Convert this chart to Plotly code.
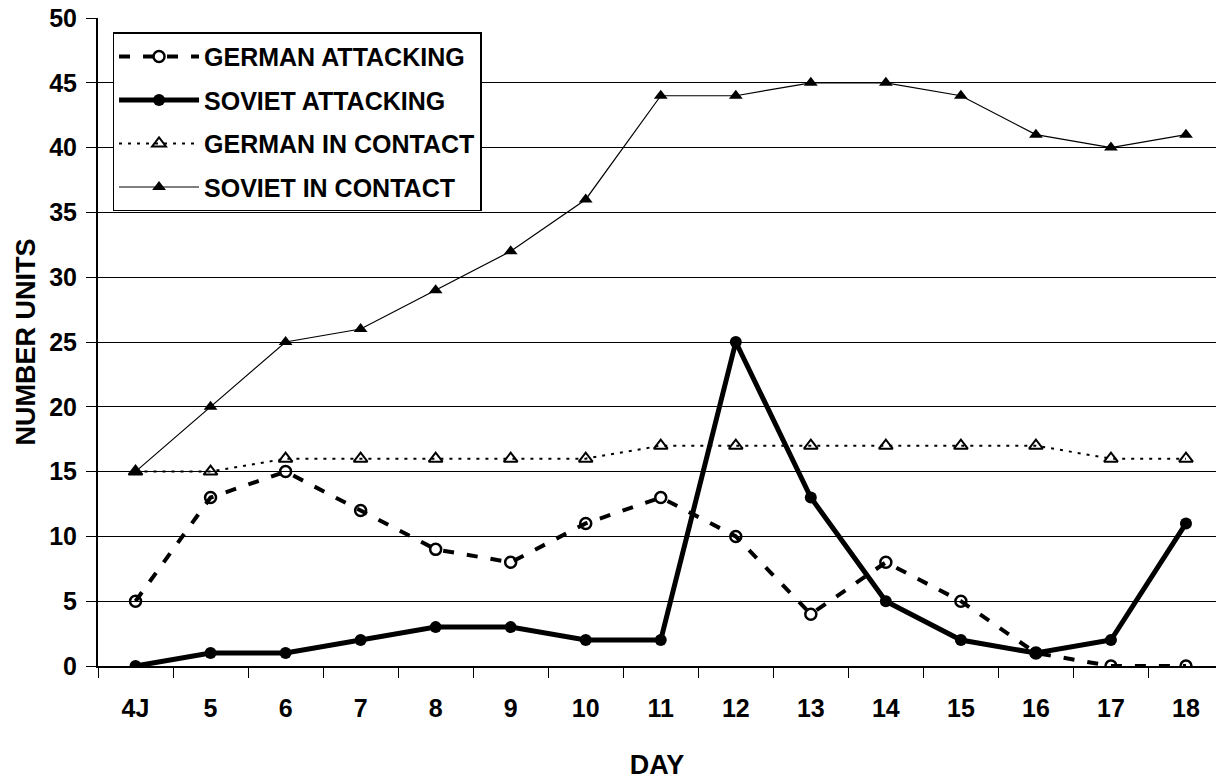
import plotly.graph_objects as go

# data
days = ["4J", "5", "6", "7", "8", "9", "10", "11", "12", "13", "14", "15", "16", "17", "18"]
german_attacking = [5, 13, 15, 12, 9, 8, 11, 13, 10, 4, 8, 5, 1, 0, 0]
soviet_attacking = [0, 1, 1, 2, 3, 3, 2, 2, 25, 13, 5, 2, 1, 2, 11]
german_contact = [15, 15, 16, 16, 16, 16, 16, 17, 17, 17, 17, 17, 17, 16, 16]
soviet_contact = [15, 20, 25, 26, 29, 32, 36, 44, 44, 45, 45, 44, 41, 40, 41]

fig = go.Figure()

fig.add_trace(go.Scatter(
    x=days, y=german_attacking, name="GERMAN ATTACKING", mode="lines+markers", legendgroup="ga",
    line=dict(color="black", width=4, dash="11px,13px"),
    marker=dict(symbol="circle-open", size=11, color="black", line=dict(width=2.5)),
))
fig.add_trace(go.Scatter(
    x=days, y=soviet_attacking, name="SOVIET ATTACKING", mode="lines+markers", legendgroup="sa",
    line=dict(color="black", width=5),
    marker=dict(symbol="circle", size=12, color="black"),
))
fig.add_trace(go.Scatter(
    x=days, y=german_contact, name="GERMAN IN CONTACT", mode="lines+markers", legendgroup="gc",
    line=dict(color="black", width=2, dash="3px,6px"),
    marker=dict(symbol="triangle-up-open", size=12, color="black", line=dict(width=2)),
))
fig.add_trace(go.Scatter(
    x=days, y=soviet_contact, name="SOVIET IN CONTACT", mode="lines+markers", legendgroup="sc",
    line=dict(color="black", width=1.2),
    marker=dict(symbol="triangle-up", size=12, color="black"),
))

fig.update_layout(
    width=1216, height=780,
    margin=dict(l=98, r=0, t=18, b=114, autoexpand=False),
    paper_bgcolor="white", plot_bgcolor="white",
    font=dict(family="Liberation Sans, Arial, sans-serif", size=25, color="black", weight="bold"),
    showlegend=True,
    legend=dict(
        x=0.013, y=0.978, xanchor="left", yanchor="top",
        bgcolor="white", bordercolor="black", borderwidth=1.5,
        font=dict(size=25, weight="bold"), itemwidth=80, tracegroupgap=8,
    ),
)

fig.update_xaxes(
    type="category", range=[-0.5, 14.4], automargin=False,
    showline=True, linecolor="black", linewidth=2,
    ticks="outside", tickson="boundaries", ticklen=10, tickcolor="black", tickwidth=1,
    ticklabelstandoff=19,
    showgrid=False, zeroline=False,
    tickfont=dict(size=25, weight="bold"),
    title=dict(text="DAY", font=dict(size=27, weight="bold"), standoff=38),
)
fig.update_yaxes(
    range=[0, 50], dtick=5, automargin=False,
    showline=True, linecolor="black", linewidth=2,
    ticks="outside", ticklen=10, tickcolor="black", tickwidth=1,
    ticklabelstandoff=4,
    showgrid=True, gridcolor="black", gridwidth=1, zeroline=False,
    tickfont=dict(size=25, weight="bold"),
    title=dict(text="NUMBER UNITS", font=dict(size=27, weight="bold"), standoff=6),
)

# drop the default page margin so the figure sits at the window's corner
fig.write_html("out.html", config={"displayModeBar": False},
               post_script="document.body.style.margin='0';")
